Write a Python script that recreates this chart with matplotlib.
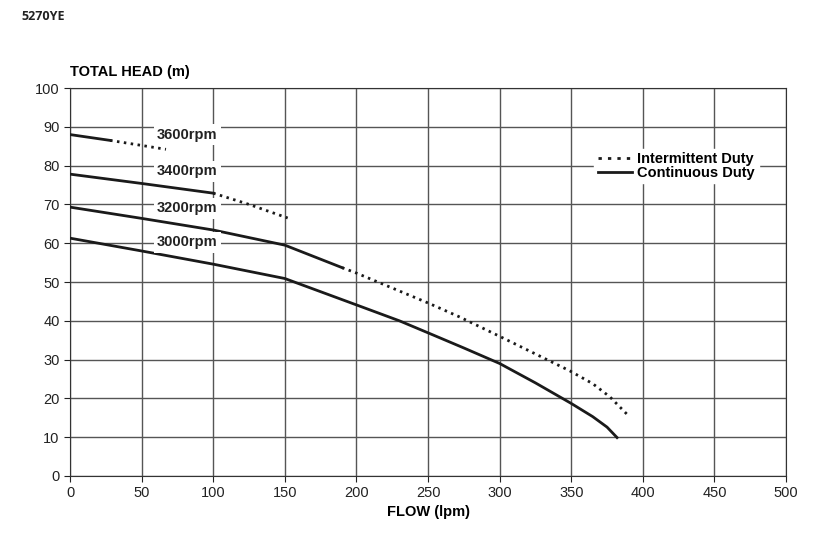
import numpy as np
import matplotlib.pyplot as plt

plt.rcParams['font.family'] = ['Liberation Sans', 'DejaVu Sans']

# curves: (flow lpm, head m)
flow_3600_c = [0, 28]
head_3600_c = [88.0, 86.5]
flow_3600_i = [28, 67]
head_3600_i = [86.5, 84.2]

flow_3400_c = [0, 50, 100]
head_3400_c = [77.8, 75.4, 72.9]
flow_3400_i = [100, 125, 152]
head_3400_i = [72.9, 70.0, 66.5]

flow_3200_c = [0, 50, 100, 150, 170, 190]
head_3200_c = [69.3, 66.4, 63.4, 59.5, 56.6, 53.7]
flow_3200_i = [190, 200, 250, 272, 300, 349, 365, 377, 389]
head_3200_i = [53.7, 52.3, 44.6, 41.0, 36.0, 27.1, 23.8, 20.4, 15.9]

flow_3000 = [0, 50, 100, 150, 200, 230, 250, 275, 300, 325, 350, 365, 375, 382]
head_3000 = [61.3, 58.0, 54.6, 50.9, 44.1, 40.0, 36.9, 33.0, 29.0, 24.0, 18.7, 15.3, 12.6, 9.9]

rpm_labels = ["3600rpm", "3400rpm", "3200rpm", "3000rpm"]
rpm_label_y = [88.0, 78.6, 69.0, 60.2]

fig = plt.figure(figsize=(8.17, 5.37), dpi=100)
ax = fig.add_axes([0.0857, 0.1136, 0.8764, 0.7225])

dots = (0, (0.9, 1.6))
lw = 2.0
ink = "#1a1a1a"
ax.plot(flow_3600_c, head_3600_c, color=ink, lw=lw, zorder=3)
ax.plot(flow_3600_i, head_3600_i, color=ink, lw=lw, ls=dots, zorder=3)
ax.plot(flow_3400_c, head_3400_c, color=ink, lw=lw, zorder=3)
ax.plot(flow_3400_i, head_3400_i, color=ink, lw=lw, ls=dots, zorder=3)
ax.plot(flow_3200_c, head_3200_c, color=ink, lw=lw, zorder=3)
ax.plot(flow_3200_i, head_3200_i, color=ink, lw=lw, ls=dots, zorder=3)
ax.plot(flow_3000, head_3000, color=ink, lw=lw, zorder=3)

for lab, y in zip(rpm_labels, rpm_label_y):
    ax.text(82, y, lab, ha="center", va="center", fontsize=10.5, fontweight="bold",
            color="#222222", zorder=4,
            bbox=dict(facecolor="white", edgecolor="none", pad=2.5))

ax.set_xlim(0, 500)
ax.set_ylim(0, 100)
ax.set_xticks(np.arange(0, 501, 50))
ax.set_yticks(np.arange(0, 101, 10))
ax.grid(True, color="#555555", lw=1.0)
ax.set_axisbelow(True)
for s in ax.spines.values():
    s.set_color("#333333")
ax.tick_params(labelsize=10.5, colors="#222222", length=4)

h1, = ax.plot([], [], color=ink, lw=lw, ls=(0, (1.2, 2.2)), label="Intermittent Duty")
h2, = ax.plot([], [], color=ink, lw=lw, label="Continuous Duty")
leg = ax.legend(handles=[h1, h2], loc="upper right", bbox_to_anchor=(0.972, 0.862),
                frameon=True, fancybox=False, framealpha=1, edgecolor="white",
                prop=dict(weight="bold", size=10.5), handlelength=2.3,
                handletextpad=0.4, labelspacing=-0.05, borderpad=0.25)

ax.set_xlabel("FLOW (lpm)", fontsize=10.5, fontweight="bold", labelpad=3)
fig.text(0.0857, 0.852, "TOTAL HEAD (m)", fontsize=10.5, fontweight="bold", ha="left", va="bottom")
fig.text(0.0257, 0.970, "5270YE", fontsize=9, fontweight="bold", color="#222222",
         ha="left", va="center", family="Open Sans")

fig.savefig("out.png", dpi=100)
